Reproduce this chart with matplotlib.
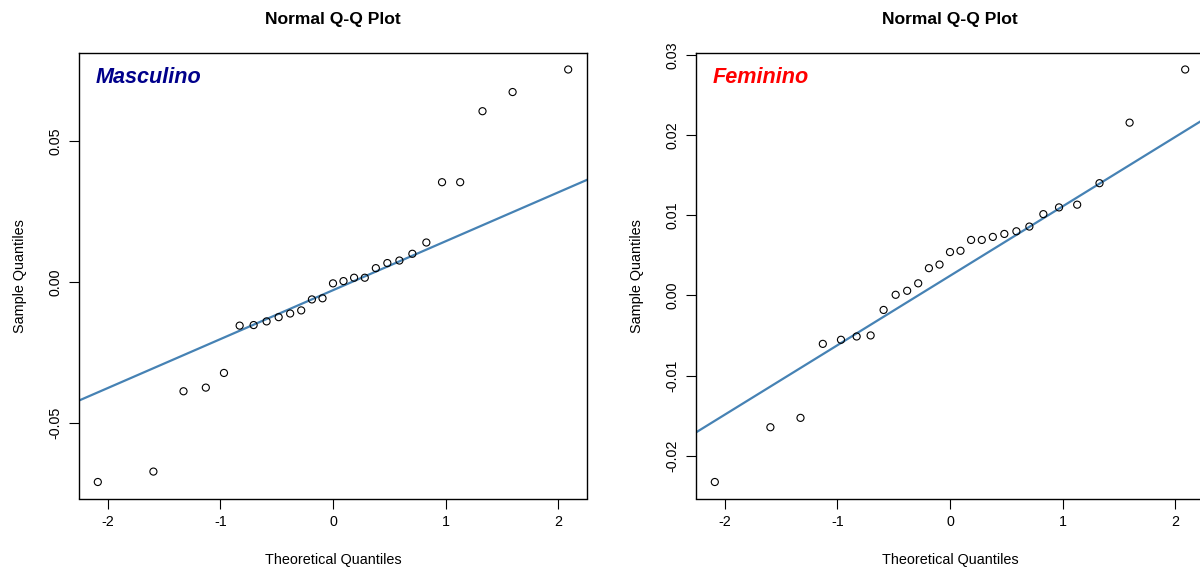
import numpy as np
import matplotlib
matplotlib.use("Agg")
import matplotlib.pyplot as plt

plt.rcParams["font.family"] = ["Liberation Sans", "DejaVu Sans"]

# Theoretical normal quantiles for n = 27 observations (shared by both groups)
theoretical = [-2.086, -1.593, -1.326, -1.128, -0.967, -0.828, -0.704, -0.589,
               -0.482, -0.380, -0.282, -0.187, -0.093, 0.000, 0.093, 0.187,
               0.282, 0.380, 0.482, 0.589, 0.704, 0.828, 0.967, 1.128,
               1.326, 1.593, 2.086]

# Ordered sample values
masculino = [-0.0710, -0.0673, -0.0388, -0.0375, -0.0323, -0.0155, -0.0153,
             -0.0140, -0.0125, -0.0112, -0.0101, -0.0062, -0.0058, -0.0005,
             0.0003, 0.0015, 0.0015, 0.0049, 0.0067, 0.0076, 0.0100, 0.0140,
             0.0354, 0.0354, 0.0606, 0.0674, 0.0754]
feminino = [-0.02327, -0.01644, -0.01527, -0.00604, -0.00553, -0.00512,
            -0.00499, -0.00181, 0.00008, 0.00058, 0.00151, 0.00340, 0.00385,
            0.00541, 0.00557, 0.00692, 0.00692, 0.00730, 0.00767, 0.00800,
            0.00859, 0.01014, 0.01098, 0.01132, 0.01400, 0.02155, 0.02818]

x_ticks = [-2, -1, 0, 1, 2]
y_ticks_m = [-0.05, 0.00, 0.05]
y_ticks_f = [-0.02, -0.01, 0.00, 0.01, 0.02, 0.03]

W, H = 1200, 572
fig = plt.figure(figsize=(W / 100, H / 100), dpi=100)
fig.patch.set_facecolor("white")

def px_axes(x0, x1, y0, y1):
    return fig.add_axes([x0 / W, 1 - y1 / H, (x1 - x0) / W, (y1 - y0) / H])

ax_m = px_axes(79, 587, 53, 498.5)
ax_f = px_axes(696, 1204, 53, 498.5)

def r_limits(v):
    lo, hi = min(v), max(v)
    pad = 0.04 * (hi - lo)
    return lo - pad, hi + pad

def qq_panel(ax, sample, yticks, label, color):
    x = np.asarray(theoretical)
    y = np.asarray(sample)
    ax.set_xlim(*r_limits(x))
    ax.set_ylim(*r_limits(y))
    # reference line through the first and third quartiles
    q = np.quantile(y, [0.25, 0.75])
    zq = np.array([-0.6744898, 0.6744898])
    slope = (q[1] - q[0]) / (zq[1] - zq[0])
    intercept = q[0] - slope * zq[0]
    ax.axline((0, intercept), slope=slope, color="#4682B4", lw=1.6, zorder=2)
    ax.scatter(x, y, s=26, facecolors="none", edgecolors="black",
               linewidths=0.8, zorder=3)
    ax.set_xticks(x_ticks)
    ax.set_xticklabels([f"{t:d}" for t in x_ticks])
    ax.set_yticks(yticks)
    ax.set_yticklabels([f"{t:.2f}" for t in yticks], rotation=90, va="center")
    ax.tick_params(direction="out", length=7, width=0.8, labelsize=10.3,
                   colors="black", pad=5)
    ax.tick_params(axis="y", pad=5)
    for s in ax.spines.values():
        s.set_linewidth(1.0)
        s.set_color("black")
    ax.set_title("Normal Q-Q Plot", fontsize=12.6, fontweight="bold", pad=21)
    ax.set_xlabel("Theoretical Quantiles", fontsize=10.4, labelpad=17)
    ax.set_ylabel("Sample Quantiles", fontsize=10.4, labelpad=15)
    ax.text(0.033, 0.946, label, transform=ax.transAxes, fontsize=15.6,
            fontweight="bold", fontstyle="italic", color=color,
            ha="left", va="center")

qq_panel(ax_m, masculino, y_ticks_m, "Masculino", "#00008B")
qq_panel(ax_f, feminino, y_ticks_f, "Feminino", "#FF0000")

fig.savefig("out.png", dpi=100, facecolor="white")
